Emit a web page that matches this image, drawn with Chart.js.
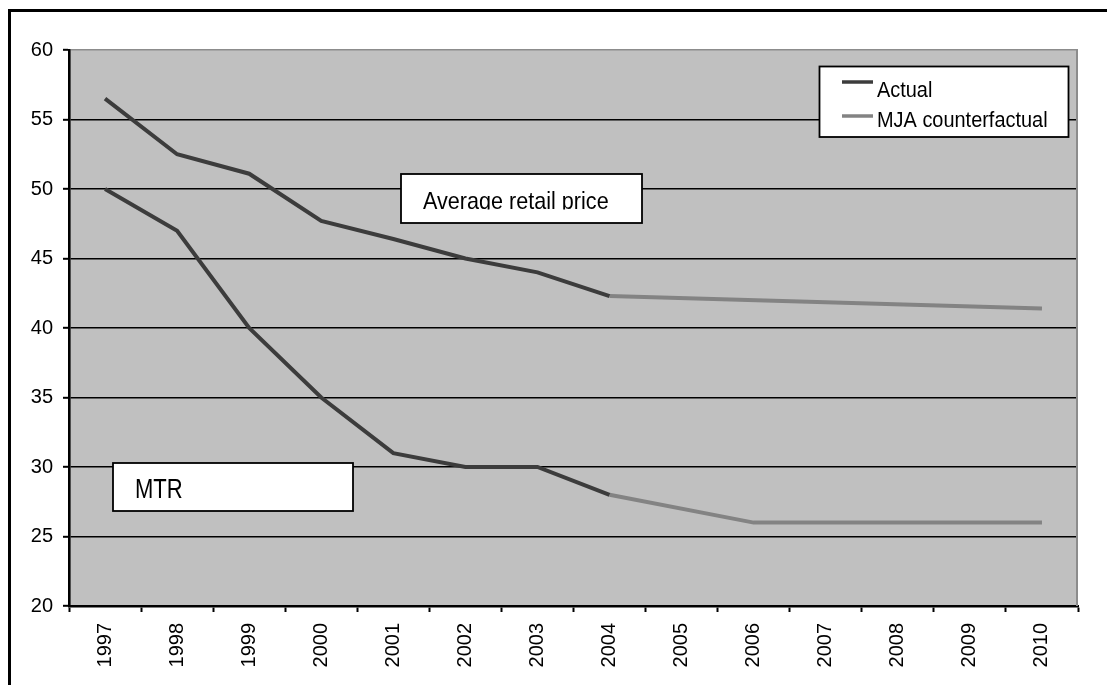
<!DOCTYPE html>
<html>
<head>
<meta charset="utf-8">
<script src="https://cdn.jsdelivr.net/npm/chart.js@4.4.1/dist/chart.umd.min.js"></script>
<style>
  html, body { margin: 0; padding: 0; background: #fff; }
  #wrap { width: 1107px; height: 685px; overflow: hidden; }
  canvas { display: block; }
</style>
</head>
<body>
<div id="wrap"><canvas id="c" width="1107" height="685"></canvas></div>
<script>
// Years on the category axis
const years = ['1997', '1998', '1999', '2000', '2001', '2002', '2003',
               '2004', '2005', '2006', '2007', '2008', '2009', '2010'];

// Average retail price (actual to 2004, then counterfactual path)
const priceActual         = [56.5, 52.5, 51.1, 47.7, 46.4, 45.0, 44.0, 42.3, null, null, null, null, null, null];
const priceCounterfactual = [null, null, null, null, null, null, null, 42.3, null, null, null, null, null, 41.4];

// Mobile termination rate (actual to 2004, then counterfactual glide path)
const mtrActual         = [50, 47, 40, 35, 31, 30, 30, 28, null, null, null, null, null, null];
const mtrCounterfactual = [null, null, null, null, null, null, null, 28, null, 26, null, null, null, 26];

// Value axis ticks
const yTicks = [20, 25, 30, 35, 40, 45, 50, 55, 60];

const legendLabels = ['Actual', 'MJA counterfactual'];

const ACTUAL_COLOR = '#3c3c3c';
const CF_COLOR = '#838383';
const PLOT_BG = '#c0c0c0';
const FONT = '"Liberation Sans", Arial, sans-serif';

// Draw text squeezed horizontally (narrow face look)
function narrowText(ctx, text, x, y, size, sx) {
  ctx.save();
  ctx.font = size + 'px ' + FONT;
  ctx.textBaseline = 'alphabetic';
  ctx.textAlign = 'left';
  ctx.translate(x, y);
  ctx.scale(sx, 1);
  ctx.fillStyle = '#000';
  ctx.fillText(text, 0, 0);
  ctx.restore();
}

function box(ctx, l, t, r, b) {
  ctx.save();
  ctx.fillStyle = '#fff';
  ctx.fillRect(l, t, r - l, b - t);
  ctx.strokeStyle = '#000';
  ctx.lineWidth = 1.8;
  ctx.strokeRect(l, t, r - l, b - t);
  ctx.restore();
}

const decor = {
  id: 'decor',
  beforeDraw(chart) {
    const { ctx, chartArea: a } = chart;
    ctx.save();
    ctx.fillStyle = '#fff';
    ctx.fillRect(0, 0, chart.width, chart.height);
    ctx.fillStyle = PLOT_BG;
    ctx.fillRect(a.left, a.top, a.right - a.left, a.bottom - a.top);
    // outer frame (top and left edges)
    ctx.fillStyle = '#000';
    ctx.fillRect(8, 9, 3, chart.height);
    ctx.fillRect(8, 9, chart.width, 3);
    ctx.restore();
  },
  beforeDatasetsDraw(chart) {
    const { ctx, chartArea: a } = chart;
    ctx.save();
    ctx.strokeStyle = '#8c8c8c';
    ctx.lineWidth = 2;
    ctx.beginPath();
    ctx.moveTo(a.right - 1, a.top);
    ctx.lineTo(a.right - 1, a.bottom);
    ctx.stroke();
    ctx.restore();
  },
  afterDraw(chart) {
    const ctx = chart.ctx;

    // series label boxes
    box(ctx, 401, 174, 642, 223);
    ctx.save();
    ctx.beginPath();
    ctx.rect(402, 175, 239, 34.5);
    ctx.clip();
    narrowText(ctx, 'Average retail price', 423, 209, 24.6, 0.878);
    ctx.restore();

    box(ctx, 113, 463, 353, 511);
    narrowText(ctx, 'MTR', 135, 497.7, 27, 0.815);

    // legend
    box(ctx, 819.5, 66.5, 1068.5, 137);
    const ds = chart.data.datasets;
    const samples = [[ds[0].borderColor, 82], [ds[1].borderColor, 116]];
    ctx.save();
    ctx.lineWidth = 3.5;
    samples.forEach(([c, y]) => {
      ctx.strokeStyle = c;
      ctx.beginPath();
      ctx.moveTo(842, y);
      ctx.lineTo(873, y);
      ctx.stroke();
    });
    ctx.restore();
    narrowText(ctx, legendLabels[0], 877, 96.7, 22.4, 0.89);
    narrowText(ctx, legendLabels[1], 877, 127.3, 22.4, 0.89);
  }
};

const lineStyle = (data, color, label) => ({
  label, data,
  borderColor: color,
  backgroundColor: color,
  borderWidth: 4,
  pointRadius: 0,
  tension: 0,
  spanGaps: true,
  borderJoinStyle: 'miter',
  borderCapStyle: 'butt'
});

new Chart(document.getElementById('c'), {
  type: 'line',
  data: {
    labels: years,
    datasets: [
      lineStyle(priceActual, ACTUAL_COLOR, 'Actual'),
      lineStyle(priceCounterfactual, CF_COLOR, 'MJA counterfactual'),
      lineStyle(mtrActual, ACTUAL_COLOR, 'Actual'),
      lineStyle(mtrCounterfactual, CF_COLOR, 'MJA counterfactual')
    ]
  },
  options: {
    responsive: false,
    animation: false,
    devicePixelRatio: 1,
    layout: { padding: { left: 0, top: 50, right: 29, bottom: 0 } },
    plugins: { legend: { display: false }, tooltip: { enabled: false } },
    scales: {
      x: {
        offset: true,
        grid: {
          offset: true,
          drawOnChartArea: false,
          drawTicks: true,
          tickLength: 6,
          tickColor: '#000',
          tickWidth: 2
        },
        border: { color: '#000', width: 2.6 },
        ticks: {
          autoSkip: false,
          minRotation: 90,
          maxRotation: 90,
          padding: 11,
          color: '#000',
          font: { family: FONT, size: 20 }
        },
        afterFit(scale) { scale.height = 79; }
      },
      y: {
        min: yTicks[0],
        max: yTicks[yTicks.length - 1],
        afterBuildTicks(scale) { scale.ticks = yTicks.map(v => ({ value: v })); },
        grid: {
          color: ctx => (ctx.tick && ctx.tick.value === 60 ? '#8c8c8c' : '#000'),
          lineWidth: 1.6,
          tickLength: 6,
          tickColor: '#000',
          tickWidth: 2
        },
        border: { color: '#000', width: 2.6 },
        ticks: {
          padding: 10,
          color: '#000',
          font: { family: FONT, size: 20 }
        },
        afterFit(scale) { scale.width = 69; }
      }
    }
  },
  plugins: [decor]
});
</script>
</body>
</html>
